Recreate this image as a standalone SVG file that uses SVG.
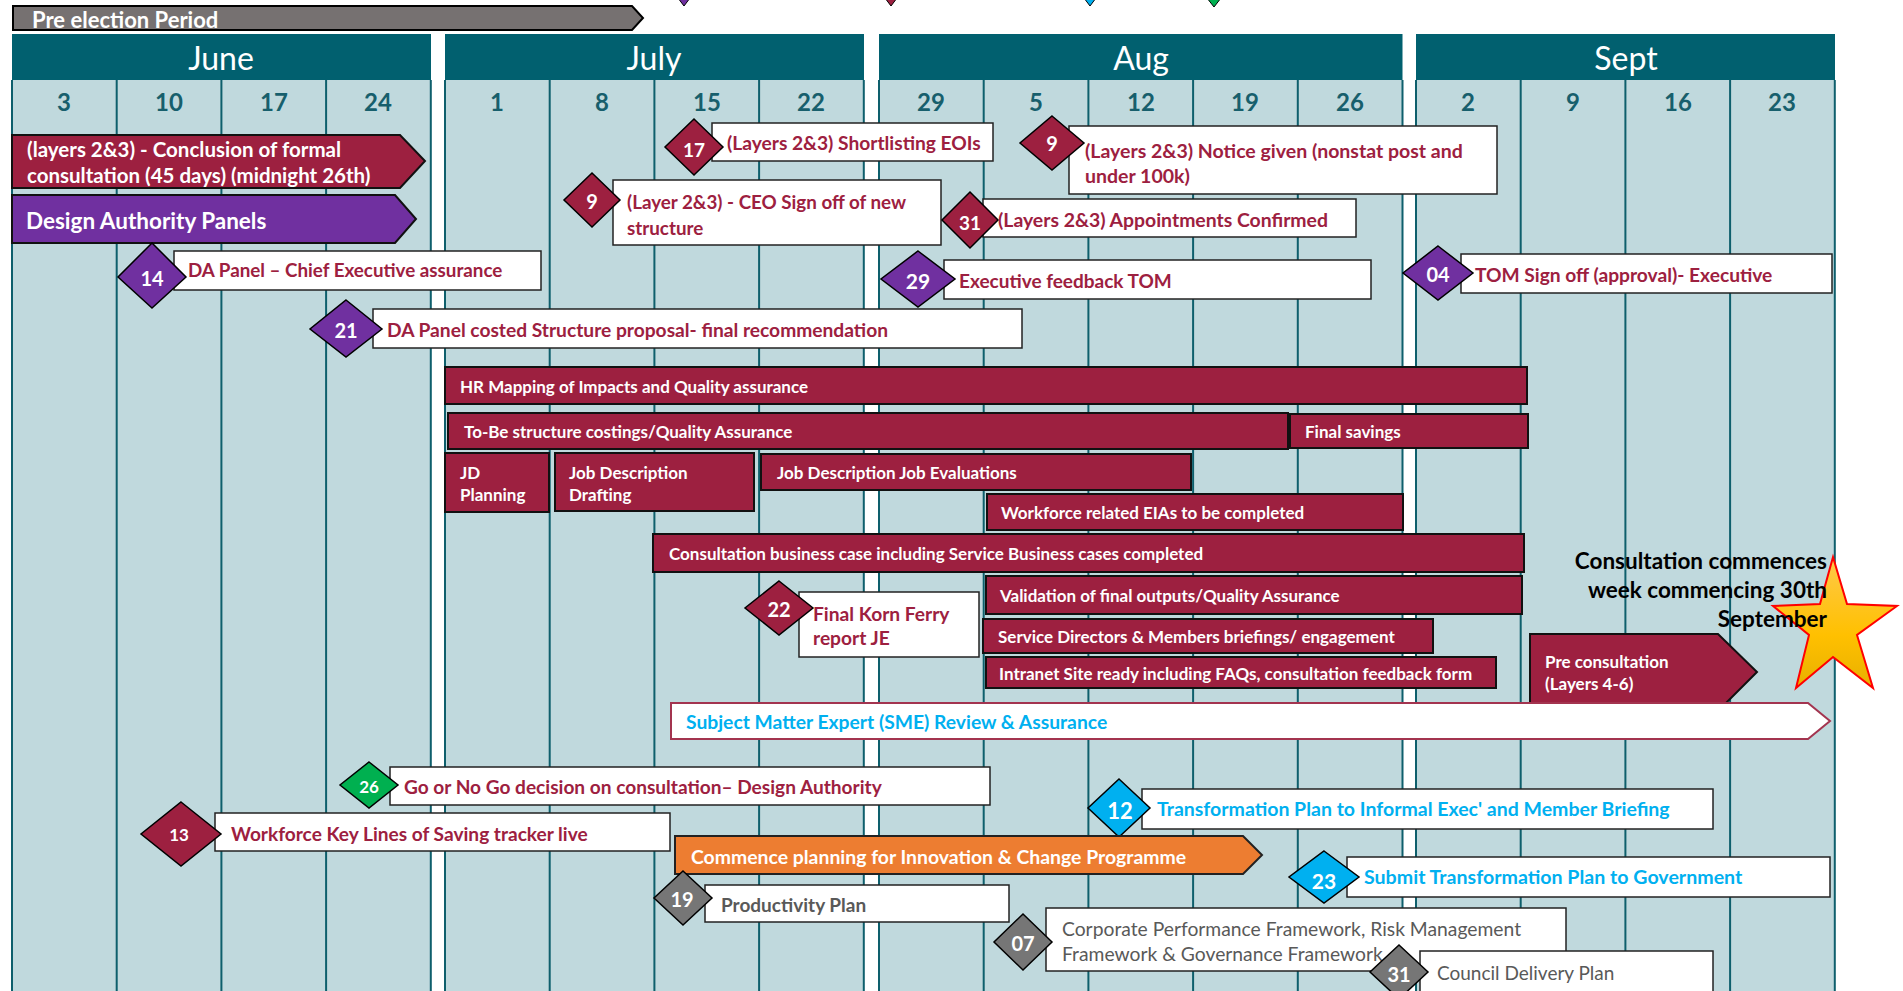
<svg xmlns="http://www.w3.org/2000/svg" width="1903" height="991" viewBox="0 0 1903 991">
<defs>
<linearGradient id="gold" x1="0" y1="0" x2="0" y2="1">
<stop offset="0" stop-color="#FFC94A"/>
<stop offset="0.6" stop-color="#FFC000"/>
<stop offset="1" stop-color="#E8B000"/>
</linearGradient>
</defs>
<style>
text{font-family:Lato,"Open Sans","Liberation Sans",sans-serif;}
.hdr{fill:#01606F;}
.body{fill:#C0D9DD;}
.vl{stroke:#0E5F6C;stroke-width:2;}
.mon{fill:#fff;font-size:32px;text-anchor:middle;dominant-baseline:central;}
.day{fill:#175F6C;font-size:24px;font-weight:bold;text-anchor:middle;dominant-baseline:central;}
.bar{fill:#9D2040;stroke:#111;stroke-width:2;}
.wbox{fill:#fff;stroke:#222;stroke-width:1.5;}
.tw{fill:#fff;font-weight:bold;dominant-baseline:central;}
.tr{fill:#9D2040;font-weight:bold;dominant-baseline:central;}
.tb{fill:#00B0F0;font-weight:bold;dominant-baseline:central;}
.tg{fill:#595959;dominant-baseline:central;}
.dm{fill:#9D2040;stroke:#000;stroke-width:1.5;}
.dp{fill:#7030A0;stroke:#000;stroke-width:1.5;}
.db{fill:#00B0F0;stroke:#000;stroke-width:1.5;}
.dgn{fill:#00B050;stroke:#000;stroke-width:1.5;}
.dgy{fill:#767676;stroke:#000;stroke-width:1.5;}
.dn{fill:#fff;font-weight:bold;text-anchor:middle;dominant-baseline:central;}
.cs{font-size:22.5px;font-weight:bold;fill:#000;text-anchor:end;dominant-baseline:central;}
</style>
<rect width="1903" height="991" fill="#fff"/>

<!-- legend remnants at top -->
<g id="legend">
<polygon points="678,-2 684,6 690,-2" fill="#7030A0" stroke="#000" stroke-width="1"/>
<polygon points="885,-2 891,6 897,-2" fill="#9D2040" stroke="#000" stroke-width="1"/>
<polygon points="1084,-2 1090,6 1096,-2" fill="#00B0F0" stroke="#000" stroke-width="1"/>
<polygon points="1207,-2 1214,7 1221,-2" fill="#00B050" stroke="#000" stroke-width="1"/>
<text x="1494" y="-4" font-size="20" fill="#222">&amp; Assurance</text>
</g>

<g id="pre-election">
<polygon points="13,6 632,6 643,18 632,30 13,30" fill="#767171" stroke="#000" stroke-width="2"/>
<text x="32" y="19" class="tw" font-size="22" fill="#F2F2F2">Pre election Period</text>
</g>

<!-- calendar -->
<g id="month-june">
<rect x="12" y="80" width="419" height="911" class="body"/>
<rect x="12" y="34" width="419" height="46" class="hdr"/>
<text x="221" y="57" class="mon">June</text>
<line x1="12" y1="80" x2="12" y2="991" class="vl"/><line x1="116.7" y1="80" x2="116.7" y2="991" class="vl"/><line x1="221.4" y1="80" x2="221.4" y2="991" class="vl"/><line x1="326.1" y1="80" x2="326.1" y2="991" class="vl"/><line x1="430.8" y1="80" x2="430.8" y2="991" class="vl"/>
<text x="64" y="101" class="day">3</text><text x="169" y="101" class="day">10</text><text x="274" y="101" class="day">17</text><text x="378" y="101" class="day">24</text>
</g>
<g id="month-july">
<rect x="445" y="80" width="419" height="911" class="body"/>
<rect x="445" y="34" width="419" height="46" class="hdr"/>
<text x="654" y="57" class="mon">July</text>
<line x1="445" y1="80" x2="445" y2="991" class="vl"/><line x1="549.7" y1="80" x2="549.7" y2="991" class="vl"/><line x1="654.4" y1="80" x2="654.4" y2="991" class="vl"/><line x1="759.1" y1="80" x2="759.1" y2="991" class="vl"/><line x1="863.8" y1="80" x2="863.8" y2="991" class="vl"/>
<text x="497" y="101" class="day">1</text><text x="602" y="101" class="day">8</text><text x="707" y="101" class="day">15</text><text x="811" y="101" class="day">22</text>
</g>
<g id="month-aug">
<rect x="879" y="80" width="523.5" height="911" class="body"/>
<rect x="879" y="34" width="523.5" height="46" class="hdr"/>
<text x="1141" y="57" class="mon">Aug</text>
<line x1="879" y1="80" x2="879" y2="991" class="vl"/><line x1="983.7" y1="80" x2="983.7" y2="991" class="vl"/><line x1="1088.4" y1="80" x2="1088.4" y2="991" class="vl"/><line x1="1193.1" y1="80" x2="1193.1" y2="991" class="vl"/><line x1="1297.8" y1="80" x2="1297.8" y2="991" class="vl"/><line x1="1402.5" y1="80" x2="1402.5" y2="991" class="vl"/>
<text x="931" y="101" class="day">29</text><text x="1036" y="101" class="day">5</text><text x="1141" y="101" class="day">12</text><text x="1245" y="101" class="day">19</text><text x="1350" y="101" class="day">26</text>
</g>
<g id="month-sept">
<rect x="1416" y="80" width="419" height="911" class="body"/>
<rect x="1416" y="34" width="419" height="46" class="hdr"/>
<text x="1626" y="57" class="mon">Sept</text>
<line x1="1416" y1="80" x2="1416" y2="991" class="vl"/><line x1="1520.7" y1="80" x2="1520.7" y2="991" class="vl"/><line x1="1625.4" y1="80" x2="1625.4" y2="991" class="vl"/><line x1="1730.1" y1="80" x2="1730.1" y2="991" class="vl"/><line x1="1834.8" y1="80" x2="1834.8" y2="991" class="vl"/>
<text x="1468" y="101" class="day">2</text><text x="1573" y="101" class="day">9</text><text x="1678" y="101" class="day">16</text><text x="1782" y="101" class="day">23</text>
</g>

<g id="connectors"></g>

<!-- bars -->
<g id="formal-consultation">
<polygon points="12,135 400,135 425,161 400,188 12,188" class="bar"/>
<text x="27" y="149" class="tw" font-size="20.5">(layers 2&amp;3)  - Conclusion of formal</text>
<text x="27" y="175" class="tw" font-size="20.5">consultation (45 days) (midnight 26th)</text>
</g>
<g id="design-authority-panels">
<polygon points="12,195 395,195 416,219 395,243 12,243" fill="#7030A0" stroke="#111" stroke-width="2"/>
<text x="26" y="220" class="tw" font-size="22.5">Design Authority Panels</text>
</g>

<g id="m14">
<rect x="174" y="251" width="367" height="39" class="wbox"/>
<polygon points="152,243 186,277 152,308 118,277" class="dp"/>
<text x="152" y="278" class="dn" font-size="20">14</text>
<text x="188" y="269" class="tr" font-size="18.8">DA Panel – Chief Executive assurance</text>
</g>
<g id="m21">
<rect x="373" y="309" width="649" height="39" class="wbox"/>
<polygon points="346,300 382,329 346,357 310,329" class="dp"/>
<text x="346" y="330" class="dn" font-size="20">21</text>
<text x="387" y="329" class="tr" font-size="19.2">DA Panel costed Structure proposal- final recommendation</text>
</g>
<g id="m17">
<rect x="712" y="123" width="281" height="38" class="wbox"/>
<polygon points="694,119 723,147 694,175 665,147" class="dm"/>
<text x="694" y="149" class="dn" font-size="19">17</text>
<text x="727" y="142" class="tr" font-size="19.2">(Layers 2&amp;3) Shortlisting EOIs</text>
</g>
<g id="m9a">
<rect x="613" y="180" width="328" height="65" class="wbox"/>
<polygon points="592,173 620,200 592,227 564,200" class="dm"/>
<text x="592" y="201" class="dn" font-size="20">9</text>
<text x="627" y="201" class="tr" font-size="18.8">(Layer 2&amp;3) - CEO Sign off of new</text>
<text x="627" y="227" class="tr" font-size="18.8">structure</text>
</g>
<g id="m9b">
<rect x="1069" y="126" width="428" height="68" class="wbox"/>
<polygon points="1052,116 1084,143 1052,170 1020,143" class="dm"/>
<text x="1052" y="143" class="dn" font-size="20">9</text>
<text x="1085" y="150" class="tr" font-size="19.5">(Layers 2&amp;3) Notice given (nonstat post and</text>
<text x="1085" y="175" class="tr" font-size="19.5">under 100k)</text>
</g>
<g id="m31a">
<rect x="983" y="199" width="373" height="38" class="wbox"/>
<polygon points="970,192 998,220 970,248 942,220" class="dm"/>
<text x="970" y="222" class="dn" font-size="19">31</text>
<text x="998" y="219" class="tr" font-size="19.4">(Layers 2&amp;3) Appointments Confirmed</text>
</g>
<g id="m29">
<rect x="944" y="260" width="427" height="39" class="wbox"/>
<polygon points="918,251 955,279 918,307 881,279" class="dp"/>
<text x="918" y="280" class="dn" font-size="21">29</text>
<text x="959" y="280" class="tr" font-size="19">Executive feedback TOM</text>
</g>
<g id="m04">
<rect x="1461" y="254" width="371" height="39" class="wbox"/>
<polygon points="1438,246 1473,273 1438,300 1403,273" class="dp"/>
<text x="1438" y="274" class="dn" font-size="20">04</text>
<text x="1475" y="274" class="tr" font-size="19.2">TOM Sign off (approval)- Executive</text>
</g>

<g id="hr-mapping">
<rect x="445" y="367" width="1082" height="37" class="bar"/>
<text x="460" y="386" class="tw" font-size="17">HR Mapping of Impacts and Quality assurance</text>
</g>
<g id="tobe-costings">
<rect x="448" y="413" width="840" height="36" class="bar"/>
<text x="464" y="431" class="tw" font-size="17">To-Be structure costings/Quality Assurance</text>
</g>
<g id="final-savings">
<rect x="1290" y="414" width="238" height="34" class="bar"/>
<text x="1305" y="431" class="tw" font-size="17">Final savings</text>
</g>
<g id="jd-planning">
<rect x="445" y="453" width="104" height="59" class="bar"/>
<text x="460" y="472" class="tw" font-size="17">JD</text>
<text x="460" y="494" class="tw" font-size="17">Planning</text>
</g>
<g id="jd-drafting">
<rect x="555" y="453" width="199" height="58" class="bar"/>
<text x="569" y="472" class="tw" font-size="17">Job Description</text>
<text x="569" y="494" class="tw" font-size="17">Drafting</text>
</g>
<g id="jd-evaluations">
<rect x="761" y="454" width="430" height="36" class="bar"/>
<text x="777" y="472" class="tw" font-size="17">Job Description Job Evaluations</text>
</g>
<g id="eias">
<rect x="987" y="494" width="416" height="36" class="bar"/>
<text x="1001" y="512" class="tw" font-size="17">Workforce related EIAs to be completed</text>
</g>
<g id="business-case">
<rect x="653" y="534" width="871" height="38" class="bar"/>
<text x="669" y="553" class="tw" font-size="17">Consultation business case including Service Business cases completed</text>
</g>
<g id="validation">
<rect x="986" y="576" width="536" height="38" class="bar"/>
<text x="1000" y="595" class="tw" font-size="17">Validation of final outputs/Quality Assurance</text>
</g>
<g id="briefings">
<rect x="983" y="619" width="450" height="34" class="bar"/>
<text x="998" y="636" class="tw" font-size="17">Service Directors &amp; Members briefings/ engagement</text>
</g>
<g id="intranet">
<rect x="986" y="657" width="510" height="31" class="bar"/>
<text x="999" y="673" class="tw" font-size="17">Intranet Site ready including FAQs, consultation feedback form</text>
</g>
<g id="m22">
<rect x="799" y="592" width="180" height="65" class="wbox"/>
<polygon points="779,581 813,608 779,635 745,608" class="dm"/>
<text x="779" y="609" class="dn" font-size="20">22</text>
<text x="813" y="613" class="tr" font-size="19.2">Final Korn Ferry</text>
<text x="813" y="637" class="tr" font-size="19.2">report JE</text>
</g>
<g id="pre-consultation">
<polygon points="1530,634 1718,634 1757,672 1718,711 1530,711" class="bar"/>
<text x="1545" y="661" class="tw" font-size="17">Pre consultation</text>
<text x="1545" y="683" class="tw" font-size="17">(Layers 4-6)</text>
</g>
<g id="consultation-star">
<polygon points="1833,557 1847,604 1897,606 1857,635 1873,688 1833,657 1796,688 1809,635 1773,606 1820,604" fill="url(#gold)" stroke="#FF0000" stroke-width="2"/>
<text x="1827" y="560" class="cs">Consultation commences</text>
<text x="1827" y="589" class="cs">week commencing 30th</text>
<text x="1827" y="618" class="cs">September</text>
</g>
<g id="sme-review">
<polygon points="671,703 1808,703 1830,721 1808,739 671,739" fill="#fff" stroke="#A3344F" stroke-width="2"/>
<text x="686" y="721" class="tb" font-size="19.3">Subject Matter Expert (SME) Review &amp; Assurance</text>
</g>
<g id="m26">
<rect x="390" y="767" width="600" height="38" class="wbox"/>
<polygon points="369,762 398,785 369,808 340,785" class="dgn"/>
<text x="369" y="786" class="dn" font-size="17">26</text>
<text x="404" y="786" class="tr" font-size="19.1">Go or No Go decision on consultation– Design Authority</text>
</g>
<g id="m13">
<rect x="215" y="813" width="455" height="38" class="wbox"/>
<polygon points="181,802 221,834 181,866 141,834" class="dm"/>
<text x="179" y="834" class="dn" font-size="17">13</text>
<text x="231" y="833" class="tr" font-size="19.1">Workforce Key Lines of Saving tracker live</text>
</g>
<g id="m12">
<rect x="1142" y="789" width="571" height="40" class="wbox"/>
<polygon points="1119,779 1150,808 1119,837 1088,808" class="db"/>
<text x="1120" y="810" class="dn" font-size="22">12</text>
<text x="1157" y="808" class="tb" font-size="19.5">Transformation Plan to Informal Exec' and Member Briefing</text>
</g>
<g id="innovation-change">
<polygon points="675,836 1243,836 1262,855 1243,874 675,874" fill="#ED7D31" stroke="#222" stroke-width="2"/>
<text x="691" y="856" class="tw" font-size="19.4">Commence planning for Innovation &amp; Change Programme</text>
</g>
<g id="m23">
<rect x="1347" y="857" width="483" height="40" class="wbox"/>
<polygon points="1324,851 1359,877 1324,903 1289,877" class="db"/>
<text x="1324" y="880" class="dn" font-size="21">23</text>
<text x="1364" y="876" class="tb" font-size="19.6">Submit Transformation Plan to Government</text>
</g>
<g id="m19">
<rect x="705" y="885" width="304" height="37" class="wbox"/>
<polygon points="683,871 712,898 683,925 654,898" class="dgy"/>
<text x="682" y="899" class="dn" font-size="20">19</text>
<text x="721" y="904" class="tg" font-weight="bold" font-size="19">Productivity Plan</text>
</g>
<g id="m07">
<rect x="1046" y="908" width="520" height="63" class="wbox"/>
<polygon points="1023,914 1052,942 1023,970 994,942" class="dgy"/>
<text x="1023" y="943" class="dn" font-size="20">07</text>
<text x="1062" y="928" class="tg" font-size="19.3">Corporate Performance Framework, Risk Management</text>
<text x="1062" y="953" class="tg" font-size="19.3">Framework &amp; Governance Framework</text>
</g>
<g id="m31b">
<rect x="1420" y="951" width="293" height="45" class="wbox"/>
<polygon points="1399,945 1428,972 1399,999 1370,972" class="dgy"/>
<text x="1399" y="974" class="dn" font-size="20">31</text>
<text x="1437" y="972" class="tg" font-size="19">Council Delivery Plan</text>
</g>
</svg>
